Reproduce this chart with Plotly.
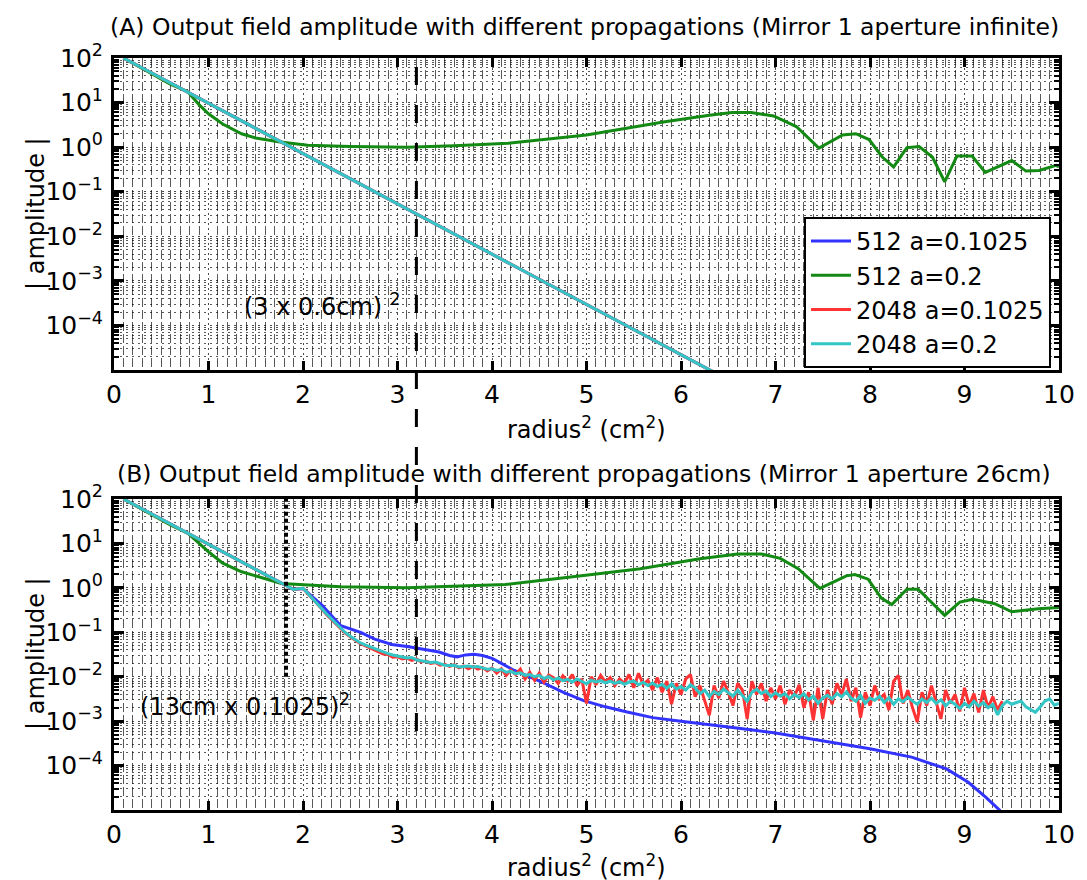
import numpy as np
import plotly.graph_objects as go

# ---------------- data ----------------
# Panel A: Gaussian decay shared by 512/2048 a=0.1025 and 2048 a=0.2
gauss_x = [0.1, 1.0, 2.0, 3.0, 4.0, 5.0, 6.0, 6.4]
gauss_y = [100, 9.6, 0.71, 0.053, 0.0039, 2.9e-4, 2.2e-5, 7.8e-6]

green_a_x = [0.1, 0.6, 0.78, 0.9, 1.0, 1.15, 1.35, 1.5, 1.74, 2.05, 2.5, 3.1, 3.6, 4.17, 5.0,
             5.83, 6.3, 6.54, 6.74, 6.98, 7.22, 7.46, 7.71, 7.85, 7.99, 8.13, 8.25, 8.39,
             8.52, 8.66, 8.79, 8.92, 9.08, 9.22, 9.50, 9.65, 9.79, 9.97, 10.0]
green_a_y = [100, 25.7, 17.5, 9.0, 5.6, 3.3, 2.0, 1.6, 1.32, 1.1, 1.03, 1.0, 1.08, 1.23, 1.88,
             3.7, 5.2, 6.0, 6.0, 5.0, 2.9, 0.95, 1.88, 2.0, 1.48, 0.60, 0.36, 0.97,
             1.03, 0.60, 0.167, 0.63, 0.63, 0.27, 0.50, 0.29, 0.30, 0.39, 0.36]

# Panel B
green_b_x = [0.1, 0.6, 0.78, 0.9, 1.0, 1.15, 1.35, 1.77, 2.4, 3.1, 4.14, 4.97, 5.57, 6.2, 6.6,
             6.85, 7.05, 7.24, 7.47, 7.75, 7.84, 7.98, 8.12, 8.23, 8.39, 8.51, 8.65, 8.79,
             8.95, 9.09, 9.32, 9.50, 9.78, 10.0]
green_b_y = [100, 25.7, 17, 10, 6.5, 3.6, 2.3, 1.26, 1.06, 1.0, 1.19, 1.9, 2.7, 4.5, 5.8,
             5.8, 4.6, 2.7, 0.97, 1.86, 2.0, 1.57, 0.59, 0.42, 0.93, 0.93, 0.48, 0.24,
             0.48, 0.55, 0.44, 0.29, 0.34, 0.36]

blue_b_x = [0.1, 1.0, 1.9, 2.0, 2.2, 2.4, 2.61, 2.76, 2.94, 3.12, 3.2, 3.31, 3.44, 3.55, 3.63,
            3.72, 3.81, 3.9, 4.0, 4.1, 4.23, 4.51, 4.75, 4.97, 5.2, 5.43, 5.7, 6.0, 6.3,
            6.59, 7.0, 7.52, 8.0, 8.44, 8.81, 9.04, 9.23, 9.37, 9.42]
blue_b_y = [100, 9.6, 0.92, 0.97, 0.41, 0.14, 0.10, 0.07, 0.053, 0.047, 0.044, 0.039, 0.036,
            0.030, 0.028, 0.031, 0.032, 0.030, 0.026, 0.020, 0.014, 0.0079, 0.0045, 0.0029,
            0.0021, 0.0016, 0.0012, 0.00100, 0.00085, 0.00070, 0.00054, 0.00036, 0.00024,
            0.000155, 8.4e-5, 4.2e-5, 1.9e-5, 1.0e-5, 7e-6]

# 2048 a=0.2 in panel B: Gaussian head, then sampled every 0.05 from 2.0 to 10.0
cyan_b_head_x = [0.1, 1.0, 1.9]
cyan_b_head_y = [100, 9.6, 0.92]
cyan_b_tail_x = np.round(np.arange(2.0, 10.0001, 0.05), 2)
cyan_b_tail_y = [
    0.98, 0.76, 0.575, 0.437, 0.339, 0.257, 0.200, 0.155, 0.120, 0.0977,
    0.0813, 0.0676, 0.0589, 0.0525, 0.0479, 0.0427, 0.0389, 0.0355, 0.0331, 0.0309,
    0.0295, 0.0282, 0.0263, 0.0269, 0.0240, 0.0229, 0.0219, 0.0209, 0.0214, 0.0195,
    0.0182, 0.0178, 0.0182, 0.0166, 0.0170, 0.0174, 0.0166, 0.0170, 0.0158, 0.0148,
    0.0151, 0.0138, 0.0145, 0.0126, 0.0132, 0.0117, 0.0123, 0.0107, 0.0112, 0.0100,
    0.0107, 0.00912, 0.0100, 0.00851, 0.00933, 0.00813, 0.00871, 0.00759, 0.00891, 0.00794,
    0.00692, 0.00832, 0.00759, 0.00813, 0.00724, 0.00794, 0.00708, 0.00776, 0.00676, 0.00759,
    0.00794, 0.00661, 0.00741, 0.00631, 0.00724, 0.00603, 0.00676, 0.00550, 0.00692, 0.00525,
    0.00603, 0.00501, 0.00661, 0.00562, 0.00417, 0.00501, 0.00355, 0.00468, 0.00398, 0.00525,
    0.00437, 0.00363, 0.00501, 0.00380, 0.00282, 0.00447, 0.00525, 0.00417, 0.00479, 0.00355,
    0.00437, 0.00363, 0.00417, 0.00316, 0.00398, 0.00339, 0.00417, 0.00302, 0.00363, 0.00251,
    0.00331, 0.00380, 0.00316, 0.00417, 0.00355, 0.00457, 0.00331, 0.00282, 0.00380, 0.00251,
    0.00331, 0.00295, 0.00363, 0.00263, 0.00339, 0.00240, 0.00316, 0.00275, 0.00347, 0.00282,
    0.00240, 0.00316, 0.00263, 0.00331, 0.00251, 0.00302, 0.00219, 0.00282, 0.00240, 0.00191,
    0.00251, 0.00209, 0.00282, 0.00219, 0.00263, 0.00200, 0.00240, 0.00138, 0.00224, 0.00282,
    0.00240, 0.00263, 0.00282, 0.00209, 0.00178, 0.00158, 0.00209, 0.00282, 0.00316, 0.00229,
    0.00251]

# 2048 a=0.1025 in panel B: Gaussian head, then sampled every 0.05 from 2.0 to 9.4
red_b_head_x = [0.1, 1.0, 1.9]
red_b_head_y = [100, 9.6, 0.92]
red_b_tail_x = np.round(np.arange(2.0, 9.4001, 0.05), 2)
red_b_tail_y = [
    0.97, 0.75, 0.57, 0.43, 0.335, 0.25, 0.195, 0.152, 0.118, 0.095,
    0.079, 0.066, 0.057, 0.051, 0.046, 0.041,
    0.0372, 0.0324, 0.0316, 0.0275, 0.0282, 0.0251, 0.0263, 0.0234, 0.0251, 0.0214,
    0.0224, 0.0200, 0.0209, 0.0182, 0.0191, 0.0170, 0.0186, 0.0158, 0.0174, 0.0151,
    0.0170, 0.0148, 0.0162, 0.0135, 0.0158, 0.0120, 0.0151, 0.0107, 0.0141, 0.0112,
    0.0148, 0.00891, 0.0126, 0.00832, 0.0120, 0.00759, 0.0110, 0.00955, 0.00708, 0.0105,
    0.00794, 0.0112, 0.00631, 0.00891, 0.00251, 0.0100, 0.00661, 0.0107, 0.00759, 0.00955,
    0.00631, 0.00891, 0.00708, 0.0112, 0.00562, 0.0120, 0.00661, 0.00832, 0.00501, 0.00955,
    0.00447, 0.00794, 0.00240, 0.00708, 0.00398, 0.00891, 0.0112, 0.00355, 0.00631, 0.00282,
    0.00135, 0.00631, 0.00331, 0.00794, 0.00447, 0.00224, 0.00708, 0.00501, 0.00112, 0.00794,
    0.00398, 0.00708, 0.00282, 0.00562, 0.00316, 0.00631, 0.00240, 0.00501, 0.00355, 0.00661,
    0.00200, 0.00447, 0.00105, 0.00562, 0.00112, 0.00501, 0.00240, 0.00708, 0.00398, 0.00891,
    0.00282, 0.00562, 0.00120, 0.00447, 0.00224, 0.00631, 0.00316, 0.00398, 0.00178, 0.00794,
    0.0107, 0.00251, 0.00501, 0.00200, 0.000955, 0.00447, 0.00224, 0.00631, 0.00282, 0.00112,
    0.00501, 0.00251, 0.00398, 0.00166, 0.00562, 0.00224, 0.00417, 0.00158, 0.00501, 0.00200,
    0.00355, 0.00178, 0.00282]

names = ["512 a=0.1025", "512 a=0.2", "2048 a=0.1025", "2048 a=0.2"]
colors = ["#3333ff", "#138a13", "#ff3333", "#33c6c6"]

y_major = [1e2, 1e1, 1e0, 1e-1, 1e-2, 1e-3, 1e-4]
y_major_text = ["10<sup>2</sup>", "10<sup>1</sup>", "10<sup>0</sup>", "10<sup>\u22121</sup>",
                "10<sup>\u22122</sup>", "10<sup>\u22123</sup>", "10<sup>\u22124</sup>"]
y_minor = [m * 10.0 ** k for k in range(-5, 2) for m in range(2, 10)]

mirror_x = 3.2          # (3 x 0.6cm)^2 marker
aperture_x = 1.82       # (13cm x 0.1025)^2 marker

# ---------------- figure ----------------
W, H = 1087, 880
FONT = "DejaVu Sans, Liberation Sans, Arial, sans-serif"
FS = 25
px_l, px_r = 106, 1051
dom_x = [px_l / W, px_r / W]
dom_a = [1 - 362 / H, 1 - 50 / H]
dom_b = [1 - 802 / H, 1 - 491 / H]

fig = go.Figure()
LW = 3

# panel A
fig.add_trace(go.Scatter(x=gauss_x, y=gauss_y, mode="lines", name=names[0],
                         line=dict(color=colors[0], width=LW), xaxis="x", yaxis="y"))
fig.add_trace(go.Scatter(x=green_a_x, y=green_a_y, mode="lines", name=names[1],
                         line=dict(color=colors[1], width=LW), xaxis="x", yaxis="y"))
fig.add_trace(go.Scatter(x=gauss_x, y=gauss_y, mode="lines", name=names[2],
                         line=dict(color=colors[2], width=LW), xaxis="x", yaxis="y"))
fig.add_trace(go.Scatter(x=gauss_x, y=gauss_y, mode="lines", name=names[3],
                         line=dict(color=colors[3], width=LW), xaxis="x", yaxis="y"))

# panel B
fig.add_trace(go.Scatter(x=blue_b_x, y=blue_b_y, mode="lines", showlegend=False,
                         line=dict(color=colors[0], width=LW), xaxis="x2", yaxis="y2"))
fig.add_trace(go.Scatter(x=green_b_x, y=green_b_y, mode="lines", showlegend=False,
                         line=dict(color=colors[1], width=LW), xaxis="x2", yaxis="y2"))
fig.add_trace(go.Scatter(x=red_b_head_x + list(red_b_tail_x), y=red_b_head_y + red_b_tail_y,
                         mode="lines", showlegend=False,
                         line=dict(color=colors[2], width=LW), xaxis="x2", yaxis="y2"))
fig.add_trace(go.Scatter(x=cyan_b_head_x + list(cyan_b_tail_x), y=cyan_b_head_y + cyan_b_tail_y,
                         mode="lines", showlegend=False,
                         line=dict(color=colors[3], width=LW), xaxis="x2", yaxis="y2"))

gridc = "rgba(0,0,0,0.65)"


def xaxis(anchor):
    return dict(domain=dom_x, anchor=anchor, range=[0, 10], tickmode="linear", tick0=0, dtick=1,
                automargin=False,
                ticks="inside", ticklen=9, tickwidth=3, tickcolor="black",
                showline=True, linewidth=3, linecolor="black", mirror="ticks",
                showgrid=True, gridcolor="rgba(0,0,0,0.7)", griddash="2px,3px", gridwidth=1,
                minor=dict(tick0=0, dtick=0.1, showgrid=True, gridcolor=gridc,
                           griddash="9px,3px", gridwidth=1, ticks=""),
                zeroline=False, tickfont=dict(family=FONT, size=FS, color="black"),
                ticklabelstandoff=0)


def yaxis(anchor, dom):
    return dict(domain=dom, anchor=anchor, type="log", range=[-5, 2],
                automargin=False,
                tickmode="array", tickvals=y_major, ticktext=y_major_text,
                ticks="inside", ticklen=10, tickwidth=3, tickcolor="black",
                showline=True, linewidth=3, linecolor="black", mirror="ticks",
                showgrid=True, gridcolor="rgba(0,0,0,0.7)", griddash="2px,4px", gridwidth=1,
                minor=dict(tickmode="array", tickvals=y_minor, ticks="inside", ticklen=5,
                           tickwidth=2, tickcolor="black", showgrid=True, gridcolor=gridc,
                           griddash="2px,4px", gridwidth=1),
                zeroline=False, tickfont=dict(family=FONT, size=FS, color="black"),
                ticklabelstandoff=3)


fig.update_layout(
    template="none",
    width=W, height=H, margin=dict(l=0, r=0, t=0, b=0, pad=0, autoexpand=False),
    paper_bgcolor="white", plot_bgcolor="white",
    font=dict(family=FONT, size=FS, color="black"),
    xaxis=xaxis("y"), yaxis=yaxis("x", dom_a),
    xaxis2=xaxis("y2"), yaxis2=yaxis("x2", dom_b),
    showlegend=True,
    legend=dict(x=1043 / W, xanchor="right", y=1 - 209 / H, yanchor="top",
                bgcolor="white", bordercolor="black", borderwidth=2,
                font=dict(family=FONT, size=24, color="black"),
                tracegroupgap=0, itemwidth=40),
)


def ann(text, xp, yp, size=FS, angle=0, xanchor="center"):
    fig.add_annotation(text=text, x=xp / W, y=1 - yp / H, xref="paper", yref="paper",
                       showarrow=False, textangle=angle, xanchor=xanchor, yanchor="middle",
                       font=dict(family=FONT, size=size, color="black"))


ann("(A) Output field amplitude with different propagations (Mirror 1 aperture infinite)", 576, 19, 23.5)
ann("(B) Output field amplitude with different propagations (Mirror 1 aperture 26cm)", 576, 466, 23.5)
ann("radius<sup>2</sup> (cm<sup>2</sup>)", 578, 420, 24)
ann("radius<sup>2</sup> (cm<sup>2</sup>)", 578, 858, 24)
ann("| amplitude |", 28, 206, 24, -90)
ann("| amplitude |", 28, 646, 24, -90)
ann("(3 x 0.6cm) <sup>2</sup>", 234, 297, 24, xanchor="left")
ann("(13cm x 0.1025)<sup>2</sup>", 130, 697, 24, xanchor="left")

# dashed marker line spanning both panels
fig.add_shape(type="line", xref="x", yref="paper", x0=mirror_x, x1=mirror_x,
              y0=1 - 723 / H, y1=1 - 50 / H, layer="above",
              line=dict(color="black", width=3, dash="18px,20px"))
# dotted aperture marker in panel B
fig.add_shape(type="line", xref="x2", yref="y2", x0=aperture_x, x1=aperture_x,
              y0=0.01, y1=100, layer="above",
              line=dict(color="black", width=4, dash="4px,3px"))

fig.write_html("out.html")
